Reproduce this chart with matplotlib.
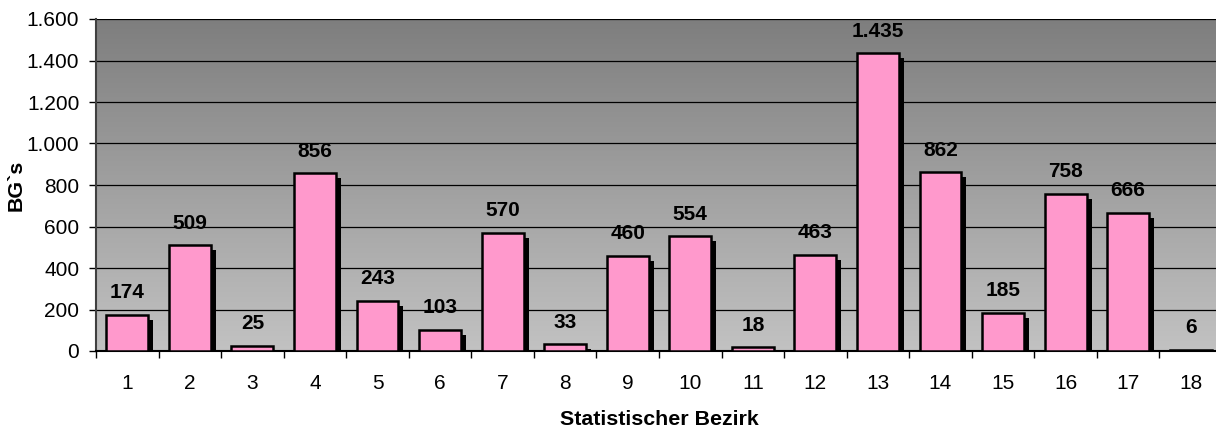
import numpy as np
import matplotlib.pyplot as plt
from matplotlib.ticker import FuncFormatter

# data
bezirke = list(range(1, 19))
bg_werte = [174, 509, 25, 856, 243, 103, 570, 33, 460, 554, 18, 463, 1435, 862, 185, 758, 666, 6]
y_ticks = [0, 200, 400, 600, 800, 1000, 1200, 1400, 1600]

plt.rcParams['font.family'] = ['Liberation Sans', 'DejaVu Sans']

fig = plt.figure(figsize=(12.16, 4.29), dpi=100)
ax = fig.add_axes([96 / 1216, 1 - 351 / 429, 1126 / 1216, 332 / 429])

ax.set_xlim(0.5, 18.5)
ax.set_ylim(0, 1600)

# gray gradient background, dark at top
grad = np.linspace(0, 1, 256).reshape(-1, 1)
ax.imshow(grad, extent=[0.5, 18.5, 0, 1600], aspect='auto', origin='lower',
          cmap=plt.matplotlib.colors.LinearSegmentedColormap.from_list('g', ['#c2c2c2', '#7e7e7e']),
          zorder=0)

for y in y_ticks[1:]:
    ax.axhline(y, color='black', lw=0.9, zorder=1)

# shadow offset: ~5 px right and down
px_x = 18 / 1126
px_y = 1600 / 332
breite = 0.67
x = np.array(bezirke)
werte = np.array(bg_werte)
ax.bar(x + 5 * px_x, np.maximum(werte - 5 * px_y, 0), width=breite, color='black',
       edgecolor='black', lw=0, zorder=2)
ax.bar(x, werte, width=breite, color='#ff99cc', edgecolor='black', lw=1.8, zorder=3)

def fmt(v):
    return f'{int(v):,}'.replace(',', '.')

for xi, v in zip(x, werte):
    ax.text(xi, v + 22 * px_y, fmt(v), ha='center', va='center', fontsize=15,
            fontweight='bold', zorder=4)

ax.set_yticks(y_ticks)
ax.yaxis.set_major_formatter(FuncFormatter(lambda v, p: fmt(v)))
ax.set_xticks(x)
ax.set_xticklabels([str(b) for b in bezirke])
ax.set_xticks(np.arange(0.5, 19, 1), minor=True)
ax.tick_params(axis='x', which='major', length=0, pad=16.5, labelsize=15)
ax.tick_params(axis='x', which='minor', length=5, width=1, direction='out')
ax.tick_params(axis='y', length=5, width=1, pad=7, labelsize=15)

for s in ['top', 'right']:
    ax.spines[s].set_visible(False)
ax.spines['left'].set_color('#404040')
ax.spines['left'].set_linewidth(1.5)
ax.spines['bottom'].set_linewidth(1.5)

ax.set_xlabel('Statistischer Bezirk', fontsize=15.4, fontweight='bold', labelpad=12.5)
ax.set_ylabel('BG`s', fontsize=15.4, fontweight='bold', labelpad=1)

fig.savefig('out.png', dpi=100)
